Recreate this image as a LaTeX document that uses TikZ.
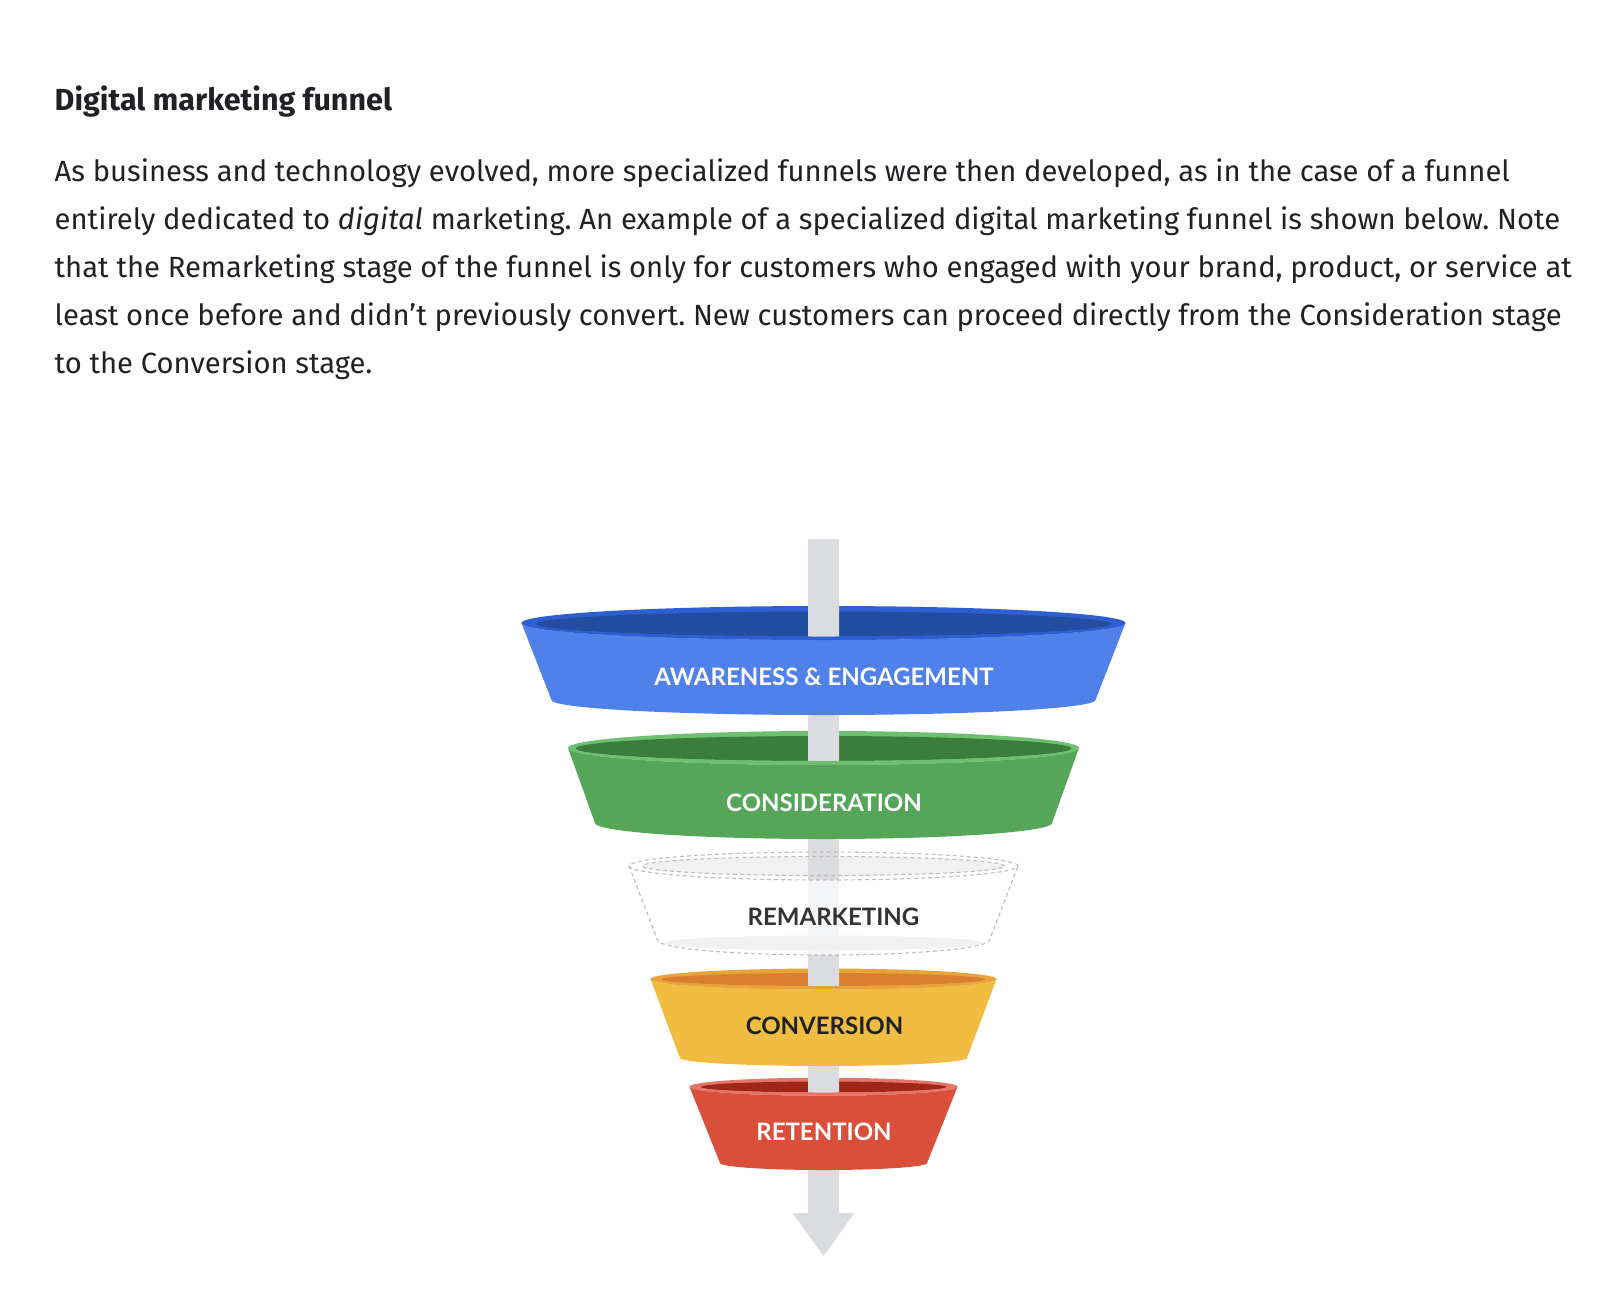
\documentclass[tikz,border=0pt]{standalone}
\usepackage{fontspec}
\setmainfont{Fira Sans}
\newfontfamily\labelfont{Lato}
\frenchspacing
\definecolor{txt}{HTML}{202124}
\definecolor{pole}{HTML}{DADCE0}
\definecolor{blueBody}{HTML}{5081EA}
\definecolor{blueRim}{HTML}{2D5FD2}
\definecolor{blueIn}{HTML}{234DA1}
\definecolor{greenBody}{HTML}{56A65A}
\definecolor{greenRim}{HTML}{6DBF72}
\definecolor{greenIn}{HTML}{3A7D3C}
\definecolor{yelBody}{HTML}{F1BD40}
\definecolor{yelRim}{HTML}{E8A33B}
\definecolor{yelIn}{HTML}{D97F2E}
\definecolor{redBody}{HTML}{D94F3A}
\definecolor{redRim}{HTML}{E57469}
\definecolor{redIn}{HTML}{A1261A}
\definecolor{remDash}{HTML}{BDBDBD}
\definecolor{remFill}{HTML}{F1F1F1}
\definecolor{remText}{HTML}{333333}
\begin{document}
\begin{tikzpicture}[x=1pt,y=1pt,
  bodytext/.style={anchor=base west,inner sep=0pt,text=txt,font=\fontsize{29.2}{35}\selectfont},
  titletext/.style={anchor=base west,inner sep=0pt,text=txt,font=\fontsize{30.5}{36}\selectfont\bfseries},
  stagelabel/.style={anchor=base,inner sep=0pt,font=\labelfont\fontsize{24}{28}\selectfont\bfseries},
  remline/.style={draw=remDash,line width=1.1pt,dash pattern=on 4pt off 3pt}]
\useasboundingbox (0,0) rectangle (1614,-1288);
\fill[white] (0,0) rectangle (1614,-1288);
% ---- text
\node[titletext] (title) at (54.5,-110) {Digital marketing funnel};
\node[bodytext] (l1) at (54.5,-181) {As business and technology evolved, more specialized funnels were then developed, as in the case of a funnel};
\node[bodytext] (l2) at (54.5,-229.2) {entirely dedicated to \textit{digital} marketing. An example of a specialized digital marketing funnel is shown below. Note};
\node[bodytext] (l3) at (54.5,-277.4) {that the Remarketing stage of the funnel is only for customers who engaged with your brand, product, or service at};
\node[bodytext] (l4) at (54.5,-325.6) {least once before and didn’t previously convert. New customers can proceed directly from the Consideration stage};
\node[bodytext] (l5) at (54.5,-373.5) {to the Conversion stage.};
% ---- top ellipses (back parts)
\fill[blueRim] (823.5,-623) ellipse [x radius=302pt,y radius=17pt];
\fill[blueIn] (823.5,-624) ellipse [x radius=288pt,y radius=12.5pt];
\fill[greenRim] (823.5,-748) ellipse [x radius=255.5pt,y radius=17pt];
\fill[greenIn] (823.5,-748.5) ellipse [x radius=248pt,y radius=12.5pt];
\fill[white] (823.5,-866) ellipse [x radius=194.5pt,y radius=14pt];
\fill[remFill] (823.5,-866) ellipse [x radius=181pt,y radius=9.5pt];
\fill[yelRim] (823.5,-979) ellipse [x radius=173pt,y radius=10.5pt];
\fill[yelIn] (823.5,-979.5) ellipse [x radius=162pt,y radius=6.5pt];
\fill[redRim] (823.5,-1086.7) ellipse [x radius=134pt,y radius=9pt];
\fill[redIn] (823.5,-1087) ellipse [x radius=123pt,y radius=5.5pt];
% ---- pole with arrow head
\fill[pole] (808,-539) -- (839,-539) -- (839,-1213) -- (854.5,-1213) -- (823.5,-1256) -- (792.5,-1213) -- (808,-1213) -- cycle;
% ---- fronts
\fill[blueBody] (521.5,-623) arc[start angle=180,end angle=360,x radius=302pt,y radius=17pt]
  -- (1095.5,-700) arc[start angle=0,end angle=-180,x radius=272pt,y radius=15pt] -- cycle;
\fill[blueRim] (521.5,-623) arc[start angle=180,end angle=360,x radius=302pt,y radius=17pt]
  -- (1111.5,-624) arc[start angle=0,end angle=-180,x radius=288pt,y radius=12.5pt] -- cycle;
\fill[greenBody] (568,-748) arc[start angle=180,end angle=360,x radius=255.5pt,y radius=17pt]
  -- (1052,-823) arc[start angle=0,end angle=-180,x radius=228.5pt,y radius=16pt] -- cycle;
\fill[greenRim] (568,-748) arc[start angle=180,end angle=360,x radius=255.5pt,y radius=17pt]
  -- (1071.5,-748.5) arc[start angle=0,end angle=-180,x radius=248pt,y radius=12.5pt] -- cycle;
\fill[white,opacity=0.72] (629,-866) arc[start angle=180,end angle=360,x radius=194.5pt,y radius=14pt]
  -- (989.5,-940) arc[start angle=0,end angle=-180,x radius=166pt,y radius=15pt] -- cycle;
\fill[remFill] (823.5,-943) ellipse [x radius=159pt,y radius=7.5pt];
\draw[remline] (823.5,-866) ellipse [x radius=194.5pt,y radius=14pt];
\draw[remline] (823.5,-866) ellipse [x radius=181pt,y radius=9.5pt];
\draw[remline] (629,-866) -- (657.5,-940) arc[start angle=180,end angle=360,x radius=166pt,y radius=15pt] -- (1018,-866);
\fill[yelBody] (650.5,-979) arc[start angle=180,end angle=360,x radius=173pt,y radius=10.5pt]
  -- (967,-1058) arc[start angle=0,end angle=-180,x radius=143.5pt,y radius=8pt] -- cycle;
\fill[yelRim] (650.5,-979) arc[start angle=180,end angle=360,x radius=173pt,y radius=10.5pt]
  -- (985.5,-979.5) arc[start angle=0,end angle=-180,x radius=162pt,y radius=6.5pt] -- cycle;
\fill[redBody] (689.5,-1086.7) arc[start angle=180,end angle=360,x radius=134pt,y radius=9pt]
  -- (927,-1163) arc[start angle=0,end angle=-180,x radius=103.5pt,y radius=7pt] -- cycle;
\fill[redRim] (689.5,-1086.7) arc[start angle=180,end angle=360,x radius=134pt,y radius=9pt]
  -- (946.5,-1087) arc[start angle=0,end angle=-180,x radius=123pt,y radius=5.5pt] -- cycle;
% ---- labels
\node[stagelabel,text=white] (aw) at (824,-685) {AWARENESS \& ENGAGEMENT};
\node[stagelabel,text=white] (co) at (824,-811.7) {CONSIDERATION};
\node[stagelabel,text=remText] (re) at (833.5,-925) {REMARKETING};
\node[stagelabel,text=txt] (cv) at (824.5,-1034) {CONVERSION};
\node[stagelabel,text=white] (rt) at (824,-1140.7) {RETENTION};
\end{tikzpicture}
\end{document}
